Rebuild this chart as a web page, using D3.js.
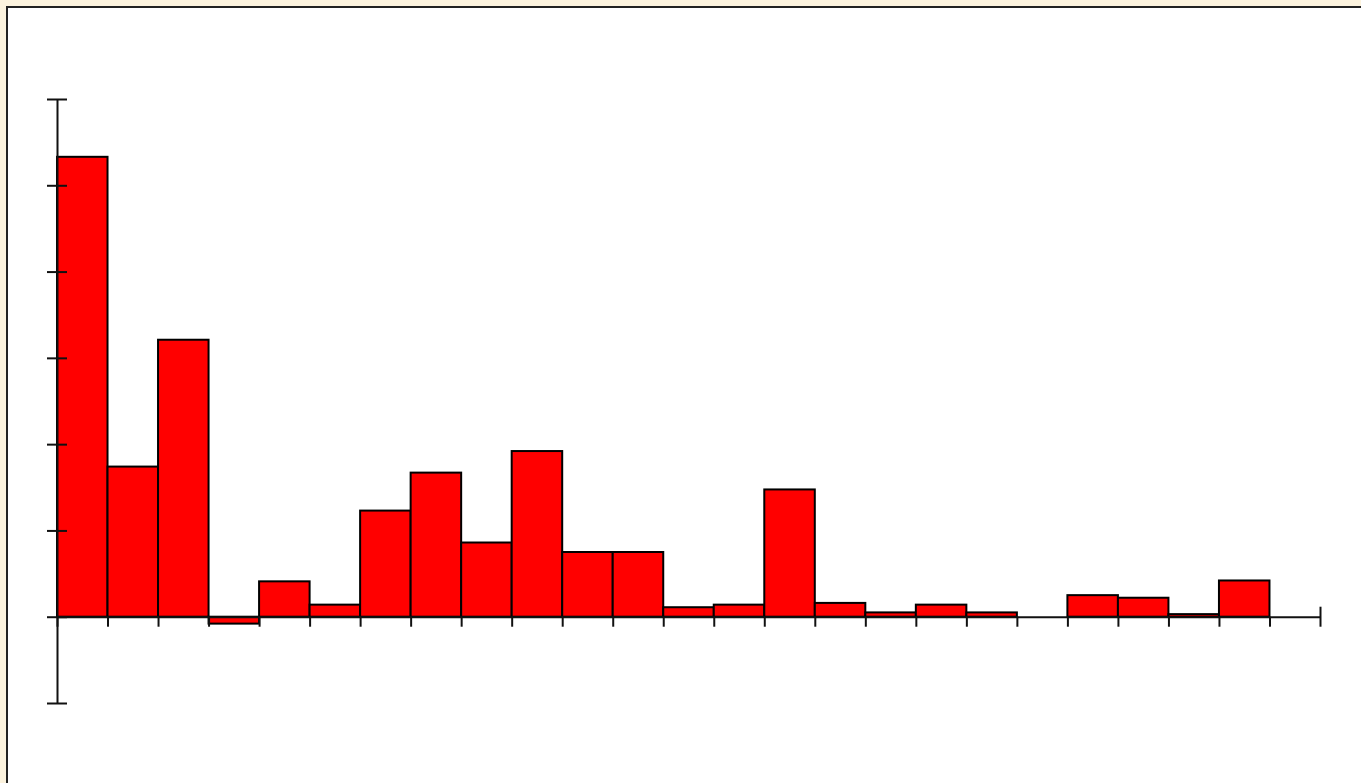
<!DOCTYPE html>
<html>
<head>
<meta charset="utf-8">
<script src="https://cdn.jsdelivr.net/npm/d3@7"></script>
<style>
  html, body { margin: 0; padding: 0; background: #fcf3de; overflow: hidden; }
  .axis path, .axis line { stroke: #111; stroke-width: 2px; }
  .bar { fill: #ff0000; stroke: #000; stroke-width: 2px; }
</style>
</head>
<body>
<svg id="chart"></svg>
<script>
// canvas size
var w = 1361;
var h = 783;

// bins along the x axis (25 slots)
var bins = d3.range(25);

// bar heights
var values = [5.33, 1.74, 3.21, -0.08, 0.41, 0.14, 1.23, 1.67, 0.86, 1.92,
              0.75, 0.75, 0.11, 0.14, 1.475, 0.16, 0.05, 0.14, 0.05, 0,
              0.25, 0.22, 0.03, 0.42, 0];

// y tick values (no labels)
var yTicks = [-1, 0, 1, 2, 3, 4, 5, 6];

var svg = d3.select("#chart")
  .attr("width", w)
  .attr("height", h);

// white panel with dark frame
svg.append("rect")
  .attr("x", 7)
  .attr("y", 7)
  .attr("width", w)
  .attr("height", h)
  .attr("fill", "#fff")
  .attr("stroke", "#222")
  .attr("stroke-width", 2);

var xScale = d3.scaleLinear()
  .domain([0, 25])
  .range([57, 1320]);

var yScale = d3.scaleLinear()
  .domain([-1, 6])
  .range([703, 99]);

// bars
svg.selectAll("rect.bar")
  .data(values)
  .join("rect")
  .attr("class", "bar")
  .attr("x", function(d, i) { return xScale(bins[i]); })
  .attr("width", function(d, i) { return xScale(bins[i] + 1) - xScale(bins[i]); })
  .attr("y", function(d) { return yScale(Math.max(0, d)); })
  .attr("height", function(d) { return Math.abs(yScale(d) - yScale(0)); })
  .style("display", function(d) { return d == 0 ? "none" : null; });

// x axis at zero
var xAxis = d3.axisBottom(xScale)
  .tickValues(d3.range(26))
  .tickSizeInner(10)
  .tickSizeOuter(0)
  .tickFormat("");

var gx = svg.append("g")
  .attr("class", "axis")
  .attr("transform", "translate(0," + yScale(0) + ")")
  .call(xAxis);

// last tick crosses the axis
gx.selectAll(".tick line")
  .attr("y1", function(d) { return d == 25 ? -10 : 0; });

// y axis
var yAxis = d3.axisLeft(yScale)
  .tickValues(yTicks)
  .tickSizeInner(10)
  .tickSizeOuter(0)
  .tickFormat("");

var gy = svg.append("g")
  .attr("class", "axis")
  .attr("transform", "translate(" + xScale(0) + ",0)")
  .call(yAxis);

// y ticks cross the axis
gy.selectAll(".tick line")
  .attr("x1", 10);
</script>
</body>
</html>
